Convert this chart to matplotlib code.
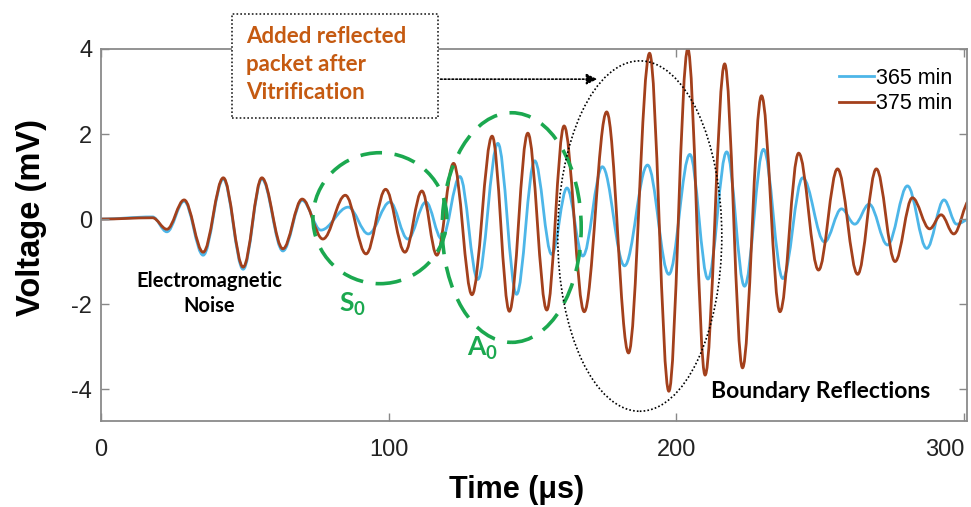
import matplotlib
matplotlib.use("Agg")
import matplotlib.pyplot as plt
from matplotlib.path import Path
from matplotlib.patches import PathPatch, Ellipse, Rectangle
from matplotlib.lines import Line2D

plt.rcParams['axes.unicode_minus'] = False
plt.rcParams['mathtext.fontset'] = 'custom'
plt.rcParams['mathtext.bf'] = 'Lato:bold'
plt.rcParams['mathtext.rm'] = 'Lato'

# Peaks and troughs of the two waveforms (time in us, voltage in mV)
t_365 = [0, 18, 23, 29, 35.6, 42.6, 49.5, 56, 63.3, 70, 76.5, 86, 93, 100.5,
         106.7, 113, 118.5, 124.8, 131, 138, 144.5, 150.8, 156.7, 162, 167.5,
         174.3, 182, 190, 197.4, 204.7, 211, 217.5, 223.7, 230.3, 237, 243.9,
         251.5, 257.4, 262, 267, 273.4, 280.3, 287, 293, 297.4, 302]
v_365 = [0.0, 0.05, -0.3, 0.42, -0.85, 0.94, -1.18, 0.94, -0.75, 0.44, -0.26,
         0.28, -0.35, 0.4, -0.47, 0.4, -0.47, 1.0, -1.42, 1.78, -1.77, 1.37,
         -0.83, 0.73, -0.87, 1.23, -1.1, 1.27, -1.3, 1.52, -1.41, 1.58, -1.58,
         1.64, -1.4, 0.97, -0.54, 0.24, -0.12, 0.35, -0.61, 0.78, -0.69, 0.45,
         -0.12, 0.0]

t_375 = [0, 18, 23, 29, 35.6, 42.6, 49.5, 56, 63.3, 70, 77.2, 85, 92.2, 99,
         105.7, 111.6, 116.8, 122.6, 129, 136, 142, 148.4, 155, 161, 168,
         175.8, 183.4, 190.7, 197.4, 204, 210, 216.8, 223, 229.6, 236, 242.5,
         249.4, 256, 263, 269.5, 276, 282, 288, 292, 296.4, 302]
v_375 = [0.0, 0.03, -0.24, 0.45, -0.78, 0.97, -1.13, 0.97, -0.7, 0.47, -0.47,
         0.56, -0.82, 0.7, -0.78, 0.66, -0.85, 1.31, -1.78, 1.95, -2.17, 2.02,
         -2.14, 2.19, -2.18, 2.52, -3.15, 3.9, -4.05, 4.0, -3.67, 3.65, -3.5,
         2.9, -2.18, 1.55, -1.2, 1.18, -1.3, 1.18, -1.0, 0.5, -0.23, 0.1,
         -0.35, 0.45]

labels = ['365 min', '375 min']
colors = ['#4DB6E8', '#A3401C']
x_ticks = [0, 100, 200, 300]
y_ticks = [-4, -2, 0, 2, 4]

orange = '#C55A11'
green = '#1BA84F'


def wave_path(t, v, k=0.36):
    # smooth half-waves between successive extrema (flat tangents at each one)
    verts = [(t[0], v[0])]
    codes = [Path.MOVETO]
    for i in range(1, len(t)):
        dt = t[i] - t[i - 1]
        verts += [(t[i - 1] + k * dt, v[i - 1]), (t[i] - k * dt, v[i]), (t[i], v[i])]
        codes += [Path.CURVE4] * 3
    return Path(verts, codes)


fig = plt.figure(figsize=(9.71, 5.07), dpi=100)
ax = fig.add_axes([0.1037, 0.1696, 0.8922, 0.7338])

for t, v, c in [(t_365, v_365, colors[0]), (t_375, v_375, colors[1])]:
    ax.add_patch(PathPatch(wave_path(t, v), fill=False, edgecolor=c, lw=2.0,
                           capstyle='round', joinstyle='round'))

ax.set_xlim(0, 301)
ax.set_ylim(-4.75, 4.0)
ax.set_xticks(x_ticks)
ax.set_yticks(y_ticks)
ax.set_xticklabels([str(x) for x in x_ticks], family='Liberation Sans', fontsize=17)
ax.set_yticklabels([str(y) for y in y_ticks], family='Liberation Sans', fontsize=17)
# last x label sits inside the right edge
ax.get_xticklabels()[-1].set_horizontalalignment('right')
ax.tick_params(direction='in', top=True, right=True, length=6, width=1,
               color='#888888', labelcolor='#222222')
ax.tick_params(axis='x', pad=13)
ax.tick_params(axis='y', pad=6)
for s in ax.spines.values():
    s.set_color('#8a8a8a')
    s.set_linewidth(1.3)

fig.text(517 / 971, 1 - 490 / 507, 'Time (μs)', ha='center', va='center',
         fontsize=22, fontweight='bold', family='Liberation Sans')
fig.text(32 / 971, 1 - 218 / 507, 'Voltage (mV)', ha='center', va='center',
         rotation=90, fontsize=23.5, fontweight='bold', family='Liberation Sans')

handles = [Line2D([], [], color=c, lw=2.0) for c in colors]
ax.legend(handles, labels, loc='upper right', frameon=False,
          prop={'family': 'Liberation Sans', 'size': 15.5},
          handlelength=1.6, handletextpad=0.1, labelspacing=0.2,
          bbox_to_anchor=(1.0, 0.99), borderaxespad=0.3)

# dashed green circles around the S0 and A0 packets
ax.add_patch(Ellipse((97, 0.02), 46.5, 3.08, fill=False, edgecolor=green,
                     lw=2.6, linestyle=(0, (6, 3.5))))
ax.add_patch(Ellipse((142.8, -0.2), 48.3, 5.4, fill=False, edgecolor=green,
                     lw=2.6, linestyle=(0, (6, 3.5))))
ax.text(87.5, -2.0, r'$\mathbf{S_0}$', color=green, fontsize=19,
        ha='center', va='center')
ax.text(132.6, -3.05, r'$\mathbf{A_0}$', color=green, fontsize=19,
        ha='center', va='center')

# dotted ellipse around the boundary reflections
ax.add_patch(Ellipse((187.3, -0.4), 57, 8.24, fill=False, edgecolor='black',
                     lw=1.2, linestyle=(0, (1, 1.3)), clip_on=False))

# annotation box above the plot
ax.add_patch(Rectangle((45.6, 2.37), 71.5, 2.46, fill=True, facecolor='white',
                       edgecolor='#222222', lw=1.2, linestyle=(0, (1, 1.3)),
                       clip_on=False, zorder=5))
ax.text(50.5, 3.63, 'Added reflected\npacket after\nVitrification', color=orange,
        fontsize=16, fontweight='bold', family='Lato', ha='left', va='center',
        linespacing=1.42, zorder=6, clip_on=False)
ax.annotate('', xy=(173.5, 3.29), xytext=(117.1, 3.29),
            arrowprops=dict(arrowstyle='-|>', color='black', lw=1.2,
                            linestyle=(0, (1, 1.3)), mutation_scale=16))

ax.text(37.6, -1.75, 'Electromagnetic\nNoise', fontsize=14.5, fontweight='bold',
        family='Lato', ha='center', va='center', linespacing=1.3)
ax.text(250.2, -4.05, 'Boundary Reflections', fontsize=16.5, fontweight='bold',
        family='Lato', ha='center', va='center')

fig.savefig('out.png', dpi=100)
